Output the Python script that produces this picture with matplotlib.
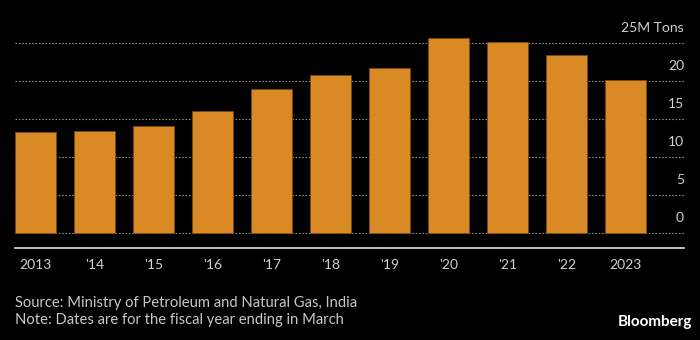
import matplotlib
matplotlib.use("Agg")
import matplotlib.pyplot as plt
import matplotlib.transforms as mtransforms

years = ["2013", "'14", "'15", "'16", "'17", "'18", "'19", "'20", "'21", "'22", "2023"]
values = [13.3, 13.4, 14.05, 16.1, 18.9, 20.75, 21.75, 25.66, 25.1, 23.4, 20.1]
yticks = [0, 5, 10, 15, 20, 25]
ytick_labels = ["0", "5", "10", "15", "20", "25M Tons"]
source_lines = ["Source: Ministry of Petroleum and Natural Gas, India",
                "Note: Dates are for the fiscal year ending in March"]

plt.rcParams['font.family'] = ['Lato', 'DejaVu Sans']

fig = plt.figure(figsize=(7, 3.4), dpi=100, facecolor='black')
ax = fig.add_axes([15/700, 1 - 248/340, (684 - 15)/700, (248 - 30)/340])
ax.set_facecolor('black')

x = list(range(len(years)))
ax.bar(x, values, width=0.705, color='#D98A24', edgecolor='#7a4a10', linewidth=0.6, zorder=3)

ax.set_xlim(-0.35, 10.99)
ax.set_ylim(-1.97, 26.7)

for t in yticks:
    ax.axhline(t, color='#8a8a8a', linestyle=(0, (1.5, 1.5)), linewidth=0.8, zorder=1)

offset = mtransforms.ScaledTranslation(0, 15/100, fig.dpi_scale_trans)
trans = mtransforms.blended_transform_factory(ax.transAxes, ax.transData) + offset
for t, lab in zip(yticks, ytick_labels):
    ax.text(1.0, t, lab, transform=trans, ha='right', va='center',
            color='#d0d0d0', fontsize=10)

for s in ['top', 'right', 'left']:
    ax.spines[s].set_visible(False)
ax.spines['bottom'].set_color('#e0e0e0')
ax.spines['bottom'].set_linewidth(1.2)
ax.set_yticks([])
ax.set_xticks(x)
ax.set_xticklabels(years, color='#d0d0d0', fontsize=10)
ax.tick_params(axis='x', length=0, pad=8)

fig.text(15/700, 1 - 303/340, source_lines[0], color='#c8c8c8', fontsize=10.6, va='center', ha='left')
fig.text(15/700, 1 - 320/340, source_lines[1], color='#c8c8c8', fontsize=10.6, va='center', ha='left')
fig.text(692/700, 1 - 322/340, "Bloomberg", color='white', fontsize=11, fontweight='bold',
         va='center', ha='right')

fig.savefig("out.png", dpi=100, facecolor='black')
